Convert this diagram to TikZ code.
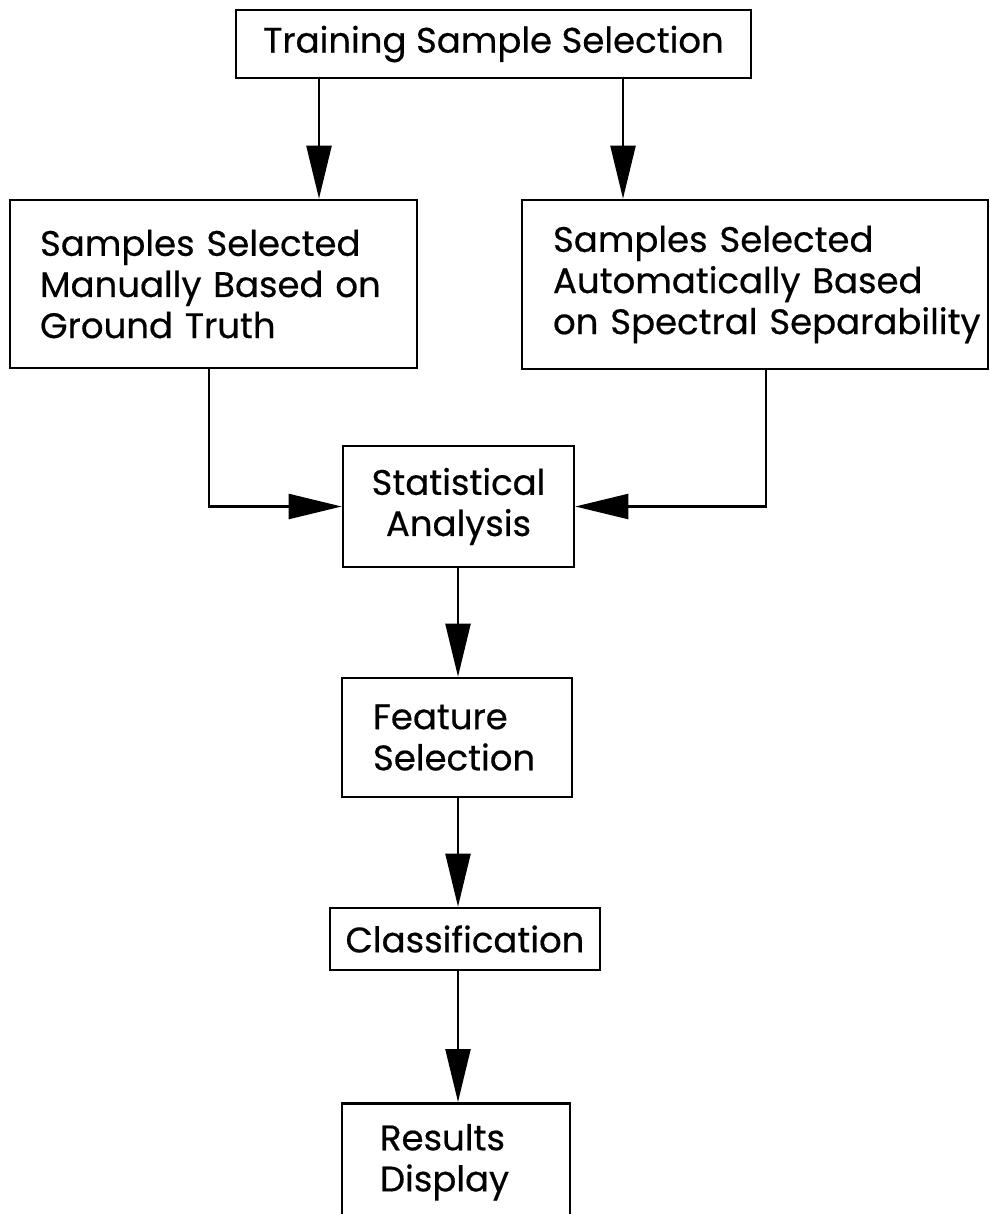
\documentclass[tikz,border=0pt]{standalone}
\usepackage{fontspec}
\newfontfamily\lettering{Poppins}[FakeBold=0.5]
\usetikzlibrary{arrows.meta}
\begin{document}
\begin{tikzpicture}[x=0.02cm,y=-0.02cm,
  box/.style={draw,line width=1.5pt,inner sep=0pt,font=\lettering\fontsize{20.2}{23.4}\selectfont},
  arr/.style={line width=1.3pt,-{Triangle[length=1.06cm,width=0.5cm]}}]
\useasboundingbox (0,0) rectangle (990,1214);
\node[box,minimum width=10.3cm,minimum height=1.36cm] (top) at (493.5,44) {Training Sample Selection\\[-4pt]};
\node[box,minimum width=8.14cm,minimum height=3.36cm,text width=6.94cm,align=left] (left) at (213.5,284)
  {\mbox{Samples Selected}\\\mbox{Manually Based on}\\\mbox{Ground Truth}\\[6pt]};
\node[box,minimum width=9.32cm,minimum height=3.38cm,text width=8.08cm,align=left] (right) at (755,284.5)
  {\mbox{Samples Selected}\\\mbox{Automatically Based}\\\mbox{on Spectral Separability}\\[6pt]};
\node[box,minimum width=4.62cm,minimum height=2.42cm,align=center] (stat) at (458.5,506.5)
  {Statistical\\Analysis};
\node[box,minimum width=4.6cm,minimum height=2.38cm,text width=3.36cm,align=left] (feat) at (457,737.5)
  {\mbox{Feature}\\\mbox{Selection}};
\node[box,minimum width=5.4cm,minimum height=1.24cm] (class) at (465,939) {Classification};
\node[box,minimum width=4.56cm,minimum height=2.36cm,text width=3.04cm,align=left,anchor=north] (res) at (456,1102)
  {\mbox{Results}\\\mbox{Display}\\[12pt]};
\coordinate (xl) at (319,0);
\coordinate (xr) at (623,0);
\coordinate (xll) at (209,0);
\coordinate (xrr) at (766,0);
\coordinate (xc) at (458,0);
\draw[arr] (top.south -| xl) -- (left.north -| xl);
\draw[arr] (top.south -| xr) -- (right.north -| xr);
\draw[arr] (left.south -| xll) |- (stat.west);
\draw[arr] (right.south -| xrr) |- (stat.east);
\draw[arr] (stat.south -| xc) -- (feat.north -| xc);
\draw[arr] (feat.south -| xc) -- (class.north -| xc);
\draw[arr] (class.south -| xc) -- (res.north -| xc);
\end{tikzpicture}
\end{document}
